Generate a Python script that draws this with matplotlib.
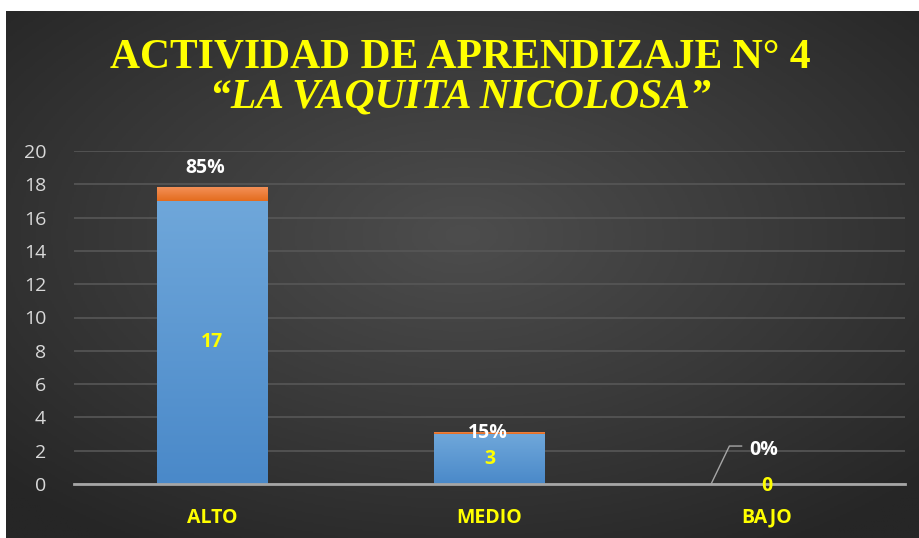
import numpy as np
import matplotlib
matplotlib.use("Agg")
from matplotlib import pyplot as plt

categories = ['ALTO', 'MEDIO', 'BAJO']
counts = [17, 3, 0]
percents = [0.85, 0.15, 0.0]
pct_labels = ['85%', '15%', '0%']
yticks = [0, 2, 4, 6, 8, 10, 12, 14, 16, 18, 20]

fig = plt.figure(figsize=(9.2, 5.38), dpi=100)
fig.patch.set_facecolor('white')

# dark radial background
bg = fig.add_axes([6 / 920, 0, 914 / 920, 527 / 538])
bg.set_axis_off()
yy, xx = np.mgrid[-1:1:300j, -1:1:500j]
r = np.sqrt((xx * 0.9) ** 2 + ((yy + 0.15) * 0.9) ** 2)
bg.imshow(r, cmap=matplotlib.colors.LinearSegmentedColormap.from_list(
    'bg', ['#4d4d4d', '#3a3a3a', '#262626']), vmin=0, vmax=1.25,
    aspect='auto', extent=[0, 1, 0, 1], zorder=0)
bg.set_xlim(0, 1)
bg.set_ylim(0, 1)

ax = fig.add_axes([74 / 920, 54 / 538, 831 / 920, 333 / 538])
ax.patch.set_alpha(0)
x = np.arange(len(categories))
w = 0.40

blue = ax.bar(x, counts, w, color='#5b9bd5', zorder=3)
orange = ax.bar(x, percents, w, bottom=counts, color='#ed7d31', zorder=3)

# vertical gradients inside the bars
grad = np.linspace(0, 1, 100).reshape(-1, 1)
bcm = matplotlib.colors.LinearSegmentedColormap.from_list('b', ['#4a89c9', '#6fa7da'])
ocm = matplotlib.colors.LinearSegmentedColormap.from_list('o', ['#e46c1e', '#f4925a'])
for bars, cm in ((blue, bcm), (orange, ocm)):
    for p in bars:
        if p.get_height() <= 0:
            continue
        x0, y0 = p.get_x(), p.get_y()
        im = ax.imshow(grad, cmap=cm, aspect='auto', origin='lower',
                       extent=[x0, x0 + p.get_width(), y0, y0 + p.get_height()], zorder=3.5)
        im.set_clip_path(p)

ax.set_xlim(-0.5, 2.5)
ax.set_ylim(0, 20)
ax.set_yticks(yticks)
ax.set_xticks(x)
ax.set_xticklabels(categories)
ax.grid(axis='y', color='#575757', linewidth=1.2, zorder=0)
ax.set_axisbelow(True)
for s in ['top', 'right', 'left']:
    ax.spines[s].set_visible(False)
ax.spines['bottom'].set_color('#a6a6a6')
ax.spines['bottom'].set_linewidth(2)
ax.spines['bottom'].set_zorder(4)
ax.tick_params(axis='y', length=0, colors='#d9d9d9', labelsize=14, pad=20)
ax.tick_params(axis='x', length=0, colors='#ffff00', labelsize=14, pad=17)
for t in ax.get_yticklabels():
    t.set_fontfamily('Open Sans')
for t in ax.get_xticklabels():
    t.set_fontfamily('Open Sans')
    t.set_fontweight('bold')

lab = dict(fontsize=14, fontweight='bold', family='Open Sans', zorder=6,
           ha='center', va='center')

# count labels
for i, c in enumerate(counts):
    if c > 0:
        ax.text(i, c / 2, str(c), color='#ffff00', **lab)
    else:
        ax.text(i, -0.15, str(c), color='#ffff00', **lab)

# percentage labels
ax.text(x[0] - 0.025, counts[0] + percents[0] + 1.15, pct_labels[0], color='white', **lab)
ax.text(x[1] - 0.007, counts[1] + percents[1] - 0.1, pct_labels[1], color='white', **lab)
ax.text(x[2] - 0.01, counts[2] + 2.05, pct_labels[2], color='white', **lab)
ax.plot([x[2] - 0.20, x[2] - 0.134, x[2] - 0.09], [0, 2.28, 2.28],
        color='#a6a6a6', lw=1, zorder=5)

fig.text(0.5, 481 / 538, 'ACTIVIDAD DE APRENDIZAJE N° 4', ha='center', va='center',
         color='#ffff00', fontsize=30, fontweight='bold', family='Liberation Serif')
fig.text(0.5, 441 / 538, '\u201cLA VAQUITA NICOLOSA\u201d', ha='center', va='center',
         color='#ffff00', fontsize=30, fontweight='bold', style='italic',
         family='Liberation Serif')

fig.savefig('out.png', dpi=100)
